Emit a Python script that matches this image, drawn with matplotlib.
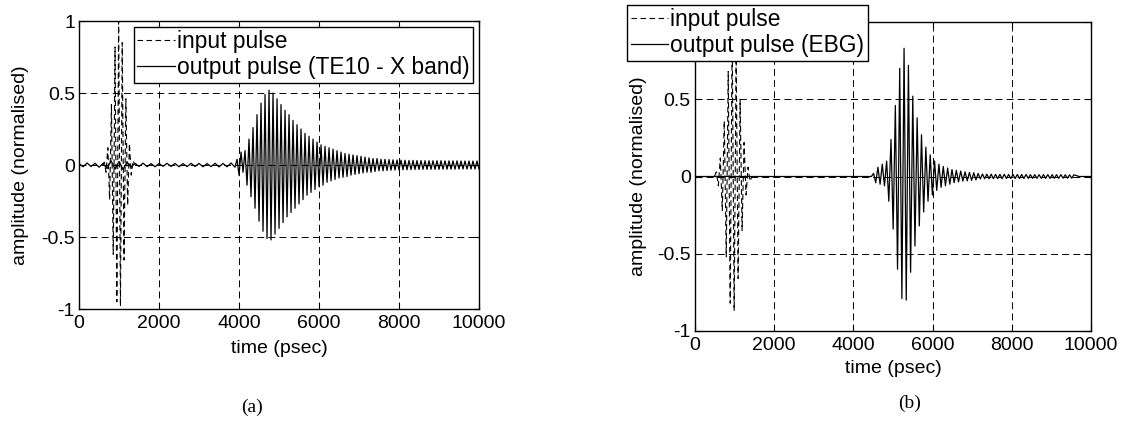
import numpy as np
import matplotlib
matplotlib.use("Agg")
import matplotlib.pyplot as plt

plt.rcParams["font.family"] = ["Liberation Sans", "DejaVu Sans"]
plt.rcParams["axes.unicode_minus"] = False
plt.rcParams["lines.scale_dashes"] = False

# Pulses are stored as successive signed peak values (psec start, half period, peaks)

# (a) input pulse
in_a_start = 630
in_a_half = 45
in_a_peaks = [0.02, -0.05, 0.12, -0.24, 0.42, -0.62, 0.82, -0.95, 1.00, -0.98,
              0.85, -0.66, 0.46, -0.28, 0.15, -0.07, 0.03]

# (a) output pulse, TE10 X band: low-level ripple then the main burst
out_a_base_start = 0
out_a_base_half = 100
out_a_base_peaks = [0.010, -0.012, 0.014, -0.010, 0.012, -0.015, 0.011, -0.025,
                    0.030, -0.028, 0.025, -0.030, 0.020, -0.015, 0.012, -0.010,
                    0.013, -0.011, 0.010, -0.012, 0.011, -0.009, 0.012, -0.010,
                    0.011, -0.012, 0.010, -0.011, 0.012, -0.010, 0.011, -0.012,
                    0.010, -0.011, 0.012, -0.013, 0.011, -0.012, 0.014, -0.015]
out_a_start = 3950
out_a_half = 50
out_a_peaks = [0.04, -0.07, 0.09, -0.05,
               0.10, -0.14, 0.18, -0.22, 0.26, -0.30, 0.35, -0.39, 0.43, -0.46,
               0.49, -0.51, 0.52,
               -0.52, 0.50, -0.48, 0.46, -0.44,
               0.42, -0.40, 0.38, -0.36, 0.35, -0.33, 0.31, -0.30, 0.28, -0.27,
               0.25, -0.24, 0.22, -0.21, 0.20, -0.19, 0.18, -0.17, 0.16, -0.15,
               0.14, -0.14, 0.13, -0.12, 0.12, -0.11, 0.11, -0.10, 0.10, -0.09,
               0.09, -0.085, 0.08, -0.08, 0.075, -0.07, 0.07, -0.065, 0.065, -0.06,
               0.06, -0.055, 0.055, -0.05, 0.05, -0.05, 0.045, -0.045, 0.045, -0.04,
               0.04, -0.04, 0.04, -0.038, 0.038, -0.036, 0.036, -0.035, 0.035, -0.034,
               0.034, -0.033, 0.033, -0.033, 0.032, -0.032, 0.032, -0.031, 0.031, -0.031,
               0.031, -0.030, 0.030, -0.030, 0.030, -0.030, 0.030, -0.030, 0.030, -0.030,
               0.030, -0.029, 0.029, -0.029, 0.029, -0.029, 0.029, -0.029, 0.029, -0.028,
               0.028, -0.028, 0.028, -0.028, 0.028, -0.028, 0.028, -0.028, 0.028, -0.028]

# (b) input pulse
in_b_start = 540
in_b_half = 50
in_b_peaks = [0.03, -0.06, 0.12, -0.22, 0.36, -0.52, 0.68, -0.82, 0.92, -0.87,
              0.80, -0.66, 0.50, -0.35, 0.22, -0.12, 0.06, -0.03]

# (b) output pulse, EBG: flat, burst, then a faint ripple
out_b_flat_t = [0, 4455]
out_b_flat_v = [0.0, 0.0]
out_b_start = 4510
out_b_half = 55
out_b_peaks = [0.02, -0.04, 0.06, -0.05, 0.08, -0.06, 0.10,
               -0.16, 0.24, -0.34, 0.46, -0.60, 0.70, -0.79, 0.83,
               -0.80, 0.72, -0.62, 0.52, -0.45, 0.38, -0.32, 0.27, -0.23, 0.19,
               -0.16, 0.14, -0.12, 0.10,
               -0.09, 0.08, -0.07, 0.065, -0.06, 0.055, -0.05, 0.045, -0.04, 0.04,
               -0.035, 0.035, -0.03, 0.03, -0.028, 0.026, -0.025, 0.024, -0.022, 0.02,
               -0.016, 0.016, -0.015, 0.015, -0.015, 0.015, -0.014, 0.014, -0.014,
               0.014, -0.014, 0.014, -0.013, 0.013, -0.013, 0.013, -0.013, 0.013,
               -0.013, 0.013, -0.013, 0.013, -0.012, 0.012, -0.012, 0.012, -0.012,
               0.012, -0.012, 0.012, -0.012, 0.012, -0.012, 0.012, -0.012, 0.012,
               -0.012, 0.012, -0.011, 0.011, -0.011, 0.011, -0.011, 0.011]
out_b_end_t = [9700, 10000]
out_b_end_v = [0.0, 0.0]

xticks = [0, 2000, 4000, 6000, 8000, 10000]
yticks = [-1, -0.5, 0, 0.5, 1]
ytick_labels_a = ["-1", "-0.5", "0", "0.5", "1"]
ytick_labels_b = ["-1", "-0.5", "0", "0.5", ""]   # top label sits under the legend


def peaks_to_xy(start, half, peaks):
    t = start + half * np.arange(len(peaks))
    return t, np.asarray(peaks)


def pad_zero(t, v):
    # pulse sits on a zero baseline either side
    t = np.concatenate([[t[0] - 50], t, [t[-1] + 50]])
    v = np.concatenate([[0.0], v, [0.0]])
    return t, v


def style_axes(ax, ylabels, xpad, ypad):
    ax.set_xlim(0, 10000)
    ax.set_ylim(-1, 1)
    ax.set_xticks(xticks)
    ax.set_xticklabels([str(x) for x in xticks])
    ax.set_yticks(yticks)
    ax.set_yticklabels(ylabels)
    ax.tick_params(direction="in", top=True, right=True, length=4, width=0.8,
                   labelsize=14, pad=4)
    ax.tick_params(axis="y", pad=3)
    ax.grid(True, color="k", lw=0.7, ls=(0, (5, 3)))
    for s in ax.spines.values():
        s.set_linewidth(1.0)
    ax.set_xlabel("time (psec)", fontsize=14, labelpad=xpad)
    ax.set_ylabel("amplitude (normalised)", fontsize=14, labelpad=ypad)


def add_legend(ax, loc, anchor):
    leg = ax.legend(loc=loc, bbox_to_anchor=anchor,
                    bbox_transform=fig.transFigure, fontsize=16.4, frameon=True,
                    fancybox=False, edgecolor="k", framealpha=1,
                    handlelength=1.65, handletextpad=0.1, labelspacing=0.12,
                    borderpad=0.15, borderaxespad=0)
    leg.get_frame().set_linewidth(1.0)
    return leg


fig = plt.figure(figsize=(11.26, 4.21), dpi=100)
ax_a = fig.add_axes([0.0702, 0.266, 0.3552, 0.684])
ax_b = fig.add_axes([0.6172, 0.2138, 0.3517, 0.7339])

dash = (0, (4, 2.5))

# panel (a)
t1, v1 = pad_zero(*peaks_to_xy(in_a_start, in_a_half, in_a_peaks))
tb, vb = peaks_to_xy(out_a_base_start, out_a_base_half, out_a_base_peaks)
tm, vm = peaks_to_xy(out_a_start, out_a_half, out_a_peaks)
ax_a.plot(t1, v1, color="k", lw=0.8, ls=dash, label="input pulse")
ax_a.plot(np.concatenate([tb, tm]), np.concatenate([vb, vm]), color="k", lw=0.9,
          label="output pulse (TE10 - X band)")
style_axes(ax_a, ytick_labels_a, 6, 8.5)
add_legend(ax_a, "upper right", (0.420, 0.936))

# panel (b)
t2, v2 = pad_zero(*peaks_to_xy(in_b_start, in_b_half, in_b_peaks))
to, vo = peaks_to_xy(out_b_start, out_b_half, out_b_peaks)
ax_b.plot(t2, v2, color="k", lw=0.8, ls=dash, label="input pulse")
ax_b.plot(np.concatenate([out_b_flat_t, to, out_b_end_t]),
          np.concatenate([out_b_flat_v, vo, out_b_end_v]), color="k", lw=0.9,
          label="output pulse (EBG)")
style_axes(ax_b, ytick_labels_b, 5, 7.5)
add_legend(ax_b, "upper left", (0.557, 0.988))

fig.text(0.224, 0.033, "(a)", fontsize=14, family="Liberation Serif",
         ha="center", va="center")
fig.text(0.808, 0.043, "(b)", fontsize=14, family="Liberation Serif",
         ha="center", va="center")

fig.savefig("out.png", dpi=100)
